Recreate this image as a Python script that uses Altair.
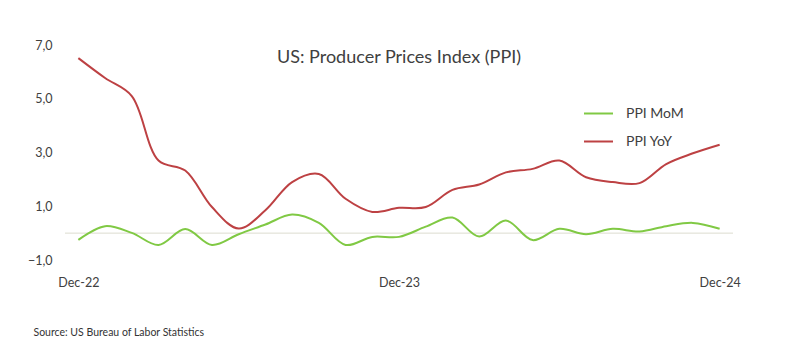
import altair as alt
import pandas as pd

months = ["Dec-22", "Jan-23", "Feb-23", "Mar-23", "Apr-23", "May-23", "Jun-23",
          "Jul-23", "Aug-23", "Sep-23", "Oct-23", "Nov-23", "Dec-23", "Jan-24",
          "Feb-24", "Mar-24", "Apr-24", "May-24", "Jun-24", "Jul-24", "Aug-24",
          "Sep-24", "Oct-24", "Nov-24", "Dec-24"]
ppi_mom = [-0.25, 0.26, 0.01, -0.44, 0.15, -0.44, -0.04, 0.32, 0.69, 0.38, -0.44, -0.14,
           -0.14, 0.24, 0.58, -0.13, 0.47, -0.26, 0.16, -0.04, 0.16, 0.06, 0.26, 0.38, 0.16]
ppi_yoy = [6.51, 5.77, 5.10, 2.70, 2.33, 0.97, 0.17, 0.85, 1.90, 2.20, 1.28, 0.79,
           0.94, 0.97, 1.61, 1.81, 2.26, 2.39, 2.70, 2.08, 1.90, 1.86, 2.57, 2.97, 3.29]
series_names = ["PPI MoM", "PPI YoY"]
series_colors = ["#80c944", "#bd4143"]
y_ticks = [-1, 1, 3, 5, 7]
x_labels = ["Dec-22", "Dec-23", "Dec-24"]

rows = []
for i, m in enumerate(months):
    rows.append({"month": m, "series": series_names[0], "value": ppi_mom[i]})
    rows.append({"month": m, "series": series_names[1], "value": ppi_yoy[i]})
df = pd.DataFrame(rows)

FONT = "Lato"
label_test = " || ".join([f"datum.value == '{l}'" for l in x_labels])

lines = alt.Chart(df).mark_line(strokeWidth=2, interpolate="catmull-rom").encode(
    x=alt.X("month:O", sort=months,
            scale=alt.Scale(type="point", padding=0.5),
            axis=alt.Axis(title="Source: US Bureau of Labor Statistics",
                          titleX=-32, titleY=72, titleAlign="left", titleAnchor="start",
                          titleBaseline="middle", titleFontSize=10.5, titleFontWeight="normal",
                          titleFont=FONT, titleColor="#333333",
                          labelExpr=f"({label_test}) ? datum.value : ''",
                          labelAngle=0, labelFont=FONT, labelFontSize=12.5,
                          labelColor="#404040", labelPadding=16,
                          ticks=False, domain=False, grid=False)),
    y=alt.Y("value:Q", scale=alt.Scale(domain=[-1, 7], nice=False, zero=False),
            axis=alt.Axis(values=y_ticks, title=None, grid=False, domain=False, ticks=False,
                          labelExpr="replace(format(datum.value, '.1f'), '.', ',')",
                          labelFont=FONT, labelFontSize=12.5, labelColor="#404040",
                          labelPadding=13)),
    color=alt.Color("series:N", sort=series_names,
                    scale=alt.Scale(domain=series_names, range=series_colors),
                    legend=alt.Legend(title=None, orient="none", legendX=518, legendY=53,
                                      symbolType="stroke", symbolSize=841,
                                      symbolStrokeWidth=2, labelFont=FONT,
                                      labelFontSize=14, labelColor="#404040",
                                      labelOffset=12, rowPadding=5)),
)

zero = alt.Chart(pd.DataFrame({"y": [0]})).mark_rule(color="#dcdccf", strokeWidth=1).encode(
    y="y:Q"
)

chart = alt.layer(zero, lines).properties(
    width=668, height=215,
    title=alt.TitleParams("US: Producer Prices Index (PPI)", font=FONT, fontSize=18,
                          fontWeight="normal", color="#404040", anchor="middle",
                          offset=-28),
    padding={"left": 57, "top": 37, "right": 45, "bottom": 91},
    autosize="none",
).configure_view(stroke=None)

chart.save("out.html", embed_options={"renderer": "svg", "actions": False})
